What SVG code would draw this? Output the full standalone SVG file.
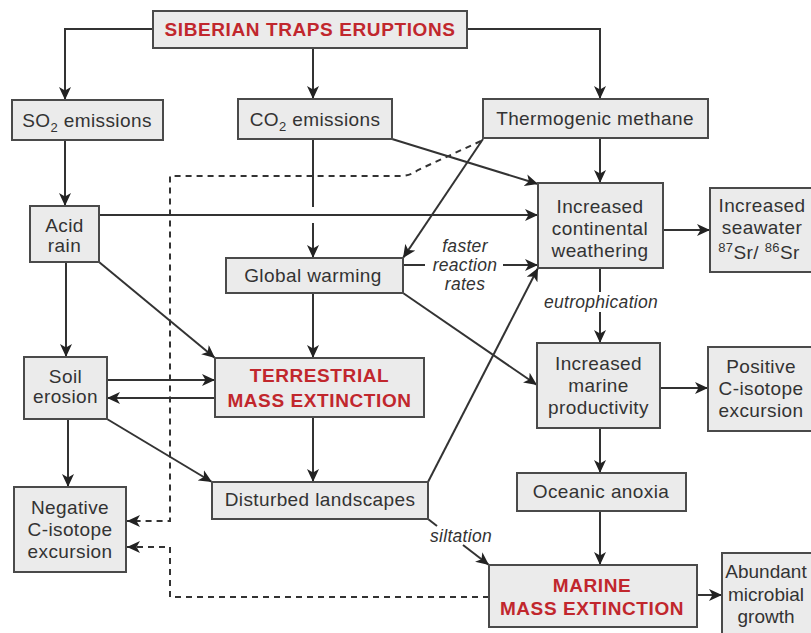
<svg xmlns="http://www.w3.org/2000/svg" width="811" height="633" viewBox="0 0 811 633">
<defs>
<style>
.box{fill:#ebebeb;stroke:#4a4a4a;stroke-width:2}
.t{font-family:"Liberation Sans",Arial,sans-serif;font-size:19px;letter-spacing:0.4px;fill:#333;text-anchor:middle}
.r{font-family:"Liberation Sans",Arial,sans-serif;font-size:19px;font-weight:bold;letter-spacing:0.6px;fill:#c1272d;text-anchor:middle}
.lab{font-family:"Liberation Sans",Arial,sans-serif;font-size:17.5px;font-style:italic;letter-spacing:0.3px;fill:#333;text-anchor:middle}
.sm{font-size:13px}
.c{fill:none;stroke:#333;stroke-width:2}
.a{marker-end:url(#ah)}
.d{fill:none;stroke:#333;stroke-width:2;stroke-dasharray:6,5}
</style>
<marker id="ah" markerUnits="userSpaceOnUse" markerWidth="14" markerHeight="12" refX="13" refY="6" orient="auto">
<path d="M0,0 L13,6 L0,12 L3.5,6 z" fill="#222"/>
</marker>
</defs>
<rect width="811" height="633" fill="#fff"/>

<g id="connectors">
<path class="c a" d="M153,29 H65 V100"/>
<path class="c a" d="M313,48 V99"/>
<path class="c a" d="M467,29 H600 V99"/>
<path class="c a" d="M65,140 V206"/>
<path class="c" d="M313,139 V207"/>
<path class="c a" d="M313,223 V258"/>
<path class="c a" d="M392,139 L538,184"/>
<path class="c a" d="M600,138 V183"/>
<path class="c a" d="M483,139 L403,258"/>
<path class="c a" d="M99,215 H538"/>
<path class="c" d="M403,265 H425"/>
<path class="c a" d="M503,265 H538"/>
<path class="c a" d="M663,230 H710"/>
<path class="c" d="M600,268 V292"/>
<path class="c a" d="M600,312 V343"/>
<path class="c a" d="M66,262 V357"/>
<path class="c a" d="M99,262 L215,358"/>
<path class="c a" d="M313,293 V358"/>
<path class="c a" d="M403,293 L537,385"/>
<path class="c a" d="M107,380 H215"/>
<path class="c a" d="M215,398 H107"/>
<path class="c a" d="M68,419 V487"/>
<path class="c a" d="M107,419 L212,482"/>
<path class="c a" d="M313,417 V482"/>
<path class="c a" d="M428,482 L538,268"/>
<path class="c" d="M428,519 L437,526"/>
<path class="c a" d="M463,545 L489,565"/>
<path class="c a" d="M660,388 H708"/>
<path class="c a" d="M600,428 V473"/>
<path class="c a" d="M600,511 V565"/>
<path class="c a" d="M697,595 H722"/>
<path class="d a" d="M481,141 L418,170 Q410,176 400,176 H170 V521 H127"/>
<path class="d a" d="M489,597 H170 V547 H127"/>
<text class="lab" x="465" y="252">faster</text>
<text class="lab" x="465" y="271">reaction</text>
<text class="lab" x="465" y="290">rates</text>
<text class="lab" x="601" y="308">eutrophication</text>
<text class="lab" x="461" y="542">siltation</text>
</g>

<g id="siberian"><rect class="box" x="153" y="11" width="314" height="37"/><text class="r" x="310" y="36">SIBERIAN TRAPS ERUPTIONS</text></g>
<g id="so2"><rect class="box" x="12" y="100" width="151" height="40"/><text class="t" x="87" y="127">SO<tspan class="sm" dy="5">2</tspan><tspan dy="-5"> emissions</tspan></text></g>
<g id="co2"><rect class="box" x="238" y="99" width="154" height="40"/><text class="t" x="315" y="126">CO<tspan class="sm" dy="5">2</tspan><tspan dy="-5"> emissions</tspan></text></g>
<g id="methane"><rect class="box" x="483" y="99" width="225" height="39"/><text class="t" x="595" y="125">Thermogenic methane</text></g>
<g id="acid"><rect class="box" x="30" y="206" width="69" height="56"/><text class="t" x="64.5" y="232">Acid</text><text class="t" x="64.5" y="252">rain</text></g>
<g id="warming"><rect class="box" x="226" y="258" width="177" height="35"/><text class="t" x="313" y="282">Global warming</text></g>
<g id="weathering"><rect class="box" x="538" y="183" width="125" height="85"/><text class="t" x="600" y="213">Increased</text><text class="t" x="600" y="235">continental</text><text class="t" x="600" y="257">weathering</text></g>
<g id="seawater"><rect class="box" x="710" y="188" width="106" height="84"/><text class="t" x="762" y="212">Increased</text><text class="t" x="762" y="234">seawater</text><text class="t" x="759" y="259"><tspan class="sm" dy="-7">87</tspan><tspan dy="7">Sr/ </tspan><tspan class="sm" dy="-7">86</tspan><tspan dy="7">Sr</tspan></text></g>
<g id="soil"><rect class="box" x="24" y="357" width="83" height="62"/><text class="t" x="65.5" y="383">Soil</text><text class="t" x="65.5" y="403">erosion</text></g>
<g id="terrestrial"><rect class="box" x="215" y="358" width="209" height="59"/><text class="r" x="319.5" y="382">TERRESTRIAL</text><text class="r" x="319.5" y="407">MASS EXTINCTION</text></g>
<g id="disturbed"><rect class="box" x="212" y="482" width="216" height="37"/><text class="t" x="320" y="506">Disturbed landscapes</text></g>
<g id="negative"><rect class="box" x="14" y="487" width="112" height="85"/><text class="t" x="70" y="514">Negative</text><text class="t" x="70" y="536">C-isotope</text><text class="t" x="70" y="558">excursion</text></g>
<g id="productivity"><rect class="box" x="537" y="343" width="123" height="85"/><text class="t" x="598.5" y="370">Increased</text><text class="t" x="598.5" y="392">marine</text><text class="t" x="598.5" y="414">productivity</text></g>
<g id="positive"><rect class="box" x="708" y="347" width="108" height="84"/><text class="t" x="761" y="373">Positive</text><text class="t" x="761" y="395">C-isotope</text><text class="t" x="761" y="417">excursion</text></g>
<g id="anoxia"><rect class="box" x="517" y="473" width="169" height="38"/><text class="t" x="601" y="498">Oceanic anoxia</text></g>
<g id="marine"><rect class="box" x="489" y="565" width="208" height="62"/><text class="r" x="592" y="592">MARINE</text><text class="r" x="592" y="615">MASS EXTINCTION</text></g>
<g id="microbial"><rect class="box" x="722" y="553" width="104" height="90"/><text class="t" x="766" y="578" style="letter-spacing:0">Abundant</text><text class="t" x="766" y="601" style="letter-spacing:0">microbial</text><text class="t" x="766" y="623" style="letter-spacing:0">growth</text></g>
</svg>
